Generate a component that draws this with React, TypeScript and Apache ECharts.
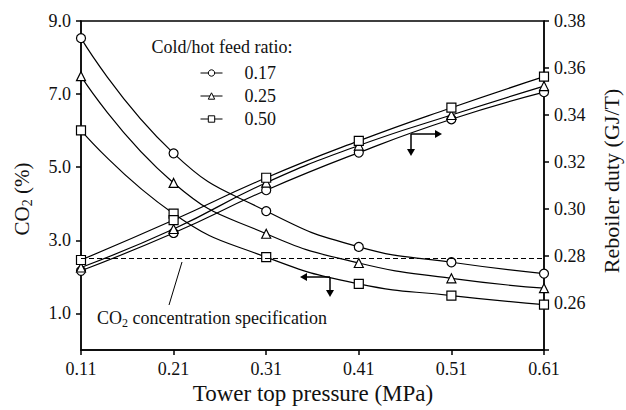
import React, { useEffect, useRef } from "react";
import * as echarts from "echarts";

const FONT = "'Liberation Serif', 'Times New Roman', serif";

const pressures = ["0.11", "0.21", "0.31", "0.41", "0.51", "0.61"];
const ratios = ["0.17", "0.25", "0.50"];
const symbols = ["circle", "triangle", "rect"];

const co2_017 = [8.53, 5.38, 3.8, 2.82, 2.4, 2.09];
const co2_025 = [7.49, 4.57, 3.18, 2.38, 1.96, 1.69];
const co2_050 = [6.01, 3.73, 2.54, 1.81, 1.49, 1.24];

const duty_017 = [0.2737, 0.2898, 0.308, 0.324, 0.3382, 0.3497];
const duty_025 = [0.2751, 0.2915, 0.3112, 0.327, 0.34, 0.3523];
const duty_050 = [0.2783, 0.2953, 0.3133, 0.329, 0.3431, 0.3563];

const co2Ticks = [1, 3, 5, 7, 9];
const co2Spec = 2.5;

const co2Series = [co2_017, co2_025, co2_050];
const dutySeries = [duty_017, duty_025, duty_050];

export default function App() {
  const ref = useRef<HTMLDivElement>(null);
  useEffect(() => {
    if (!ref.current) return;
    const chart = echarts.init(ref.current, null, { renderer: "svg" });
    const lineBase = (name: string, i: number, data: number[], yAxisIndex: number) => ({
      name,
      type: "line",
      yAxisIndex,
      data,
      smooth: true,
      symbol: symbols[i],
      symbolSize: 9,
      lineStyle: { color: "#000", width: 1.2 },
      itemStyle: { color: "#fff", borderColor: "#000", borderWidth: 1.2 },
      emphasis: { disabled: true },
      silent: true,
    });
    const series: any[] = [];
    ratios.forEach((r, i) => {
      const s: any = lineBase(r, i, co2Series[i], 0);
      if (i === 0) {
        s.markLine = {
          silent: true,
          symbol: "none",
          label: { show: false },
          lineStyle: { type: [5, 3], color: "#000", width: 1.2 },
          data: [{ yAxis: co2Spec }],
        };
      }
      series.push(s);
    });
    ratios.forEach((r, i) => {
      series.push(lineBase(r, i, dutySeries[i], 1));
    });

    const axisLine = { show: true, lineStyle: { color: "#000", width: 1.5 } };
    const tickLine = { color: "#000", width: 1.5 };
    const labelStyle = { color: "#111", fontSize: 18, fontFamily: FONT };

    const option: any = {
      animation: false,
      backgroundColor: "#fff",
      textStyle: { fontFamily: FONT },
      grid: {
        left: 81,
        right: 82,
        top: 21,
        bottom: 60,
        show: true,
        borderColor: "#000",
        borderWidth: 1.3,
        containLabel: false,
      },
      xAxis: {
        type: "category",
        data: pressures,
        boundaryGap: false,
        axisLine,
        axisTick: { show: true, alignWithLabel: true, length: 5, lineStyle: tickLine },
        axisLabel: { ...labelStyle, margin: 10 },
        splitLine: { show: false },
      },
      yAxis: [
        {
          type: "value",
          min: 0,
          max: 9,
          interval: 1,
          position: "left",
          axisLine,
          axisTick: { show: true, length: 5, lineStyle: tickLine, customValues: co2Ticks },
          axisLabel: {
            ...labelStyle,
            margin: 10,
            customValues: co2Ticks,
            formatter: (v: number) => v.toFixed(1),
          },
          splitLine: { show: false },
        },
        {
          type: "value",
          min: 0.24,
          max: 0.38,
          interval: 0.02,
          position: "right",
          axisLine,
          axisTick: { show: true, length: 5, lineStyle: tickLine },
          axisLabel: {
            ...labelStyle,
            margin: 10,
            formatter: (v: number) => (v < 0.245 ? "" : v.toFixed(2)),
          },
          splitLine: { show: false },
        },
      ],
      legend: {
        data: ratios,
        orient: "vertical",
        left: 195,
        top: 59,
        itemWidth: 22,
        itemHeight: 8,
        itemGap: 5,
        selectedMode: false,
        itemStyle: { borderWidth: 1 },
        lineStyle: { width: 1 },
        textStyle: {
          color: "#111",
          fontSize: 18,
          lineHeight: 18,
          fontFamily: FONT,
          padding: [0, 0, 0, 17],
        },
      },
      series,
      graphic: [
        {
          type: "text",
          x: 222,
          y: 47,
          style: {
            text: "Cold/hot feed ratio:",
            fill: "#111",
            font: `18px ${FONT}`,
            align: "center",
            verticalAlign: "middle",
          },
        },
        {
          type: "text",
          x: 22,
          y: 199,
          rotation: Math.PI / 2,
          style: {
            text: "{a|CO}{s|2}{a| (%)}",
            align: "center",
            verticalAlign: "middle",
            rich: {
              a: { fontSize: 21, lineHeight: 24, fontFamily: FONT, fill: "#111", color: "#111" },
              s: {
                fontSize: 14,
                lineHeight: 14,
                verticalAlign: "bottom",
                fontFamily: FONT,
                fill: "#111",
                color: "#111",
              },
            },
          },
        },
        {
          type: "text",
          x: 611,
          y: 181,
          rotation: Math.PI / 2,
          style: {
            text: "Reboiler duty (GJ/T)",
            fill: "#111",
            font: `22px ${FONT}`,
            align: "center",
            verticalAlign: "middle",
          },
        },
        {
          type: "text",
          x: 313,
          y: 393,
          style: {
            text: "Tower top pressure (MPa)",
            fill: "#111",
            font: `23px ${FONT}`,
            align: "center",
            verticalAlign: "middle",
          },
        },
        {
          type: "text",
          x: 97,
          y: 318,
          style: {
            text: "{a|CO}{s|2}{a| concentration specification}",
            align: "left",
            verticalAlign: "middle",
            rich: {
              a: { fontSize: 18, lineHeight: 22, fontFamily: FONT, fill: "#111", color: "#111" },
              s: {
                fontSize: 12,
                lineHeight: 12,
                verticalAlign: "bottom",
                fontFamily: FONT,
                fill: "#111",
                color: "#111",
              },
            },
          },
        },
        {
          type: "line",
          shape: { x1: 182, y1: 262, x2: 169, y2: 305 },
          style: { stroke: "#000", lineWidth: 1 },
        },
        {
          type: "line",
          shape: { x1: 411, y1: 134, x2: 411, y2: 150 },
          style: { stroke: "#000", lineWidth: 1.5 },
        },
        {
          type: "polygon",
          shape: { points: [[407, 149], [415, 149], [411, 156]] },
          style: { fill: "#000" },
        },
        {
          type: "line",
          shape: { x1: 411, y1: 134, x2: 436, y2: 134 },
          style: { stroke: "#000", lineWidth: 1.5 },
        },
        {
          type: "polygon",
          shape: { points: [[435, 130], [435, 138], [442, 134]] },
          style: { fill: "#000" },
        },
        {
          type: "line",
          shape: { x1: 330, y1: 277, x2: 306, y2: 277 },
          style: { stroke: "#000", lineWidth: 1.5 },
        },
        {
          type: "polygon",
          shape: { points: [[307, 273], [307, 281], [300, 277]] },
          style: { fill: "#000" },
        },
        {
          type: "line",
          shape: { x1: 330, y1: 277, x2: 330, y2: 291 },
          style: { stroke: "#000", lineWidth: 1.5 },
        },
        {
          type: "polygon",
          shape: { points: [[326, 290], [334, 290], [330, 297]] },
          style: { fill: "#000" },
        },
      ],
    };
    chart.setOption(option);
    return () => chart.dispose();
  }, []);
  return (
    <div
      ref={ref}
      style={{ position: "fixed", left: 0, top: 0, width: 626, height: 410, background: "#fff" }}
    />
  );
}
